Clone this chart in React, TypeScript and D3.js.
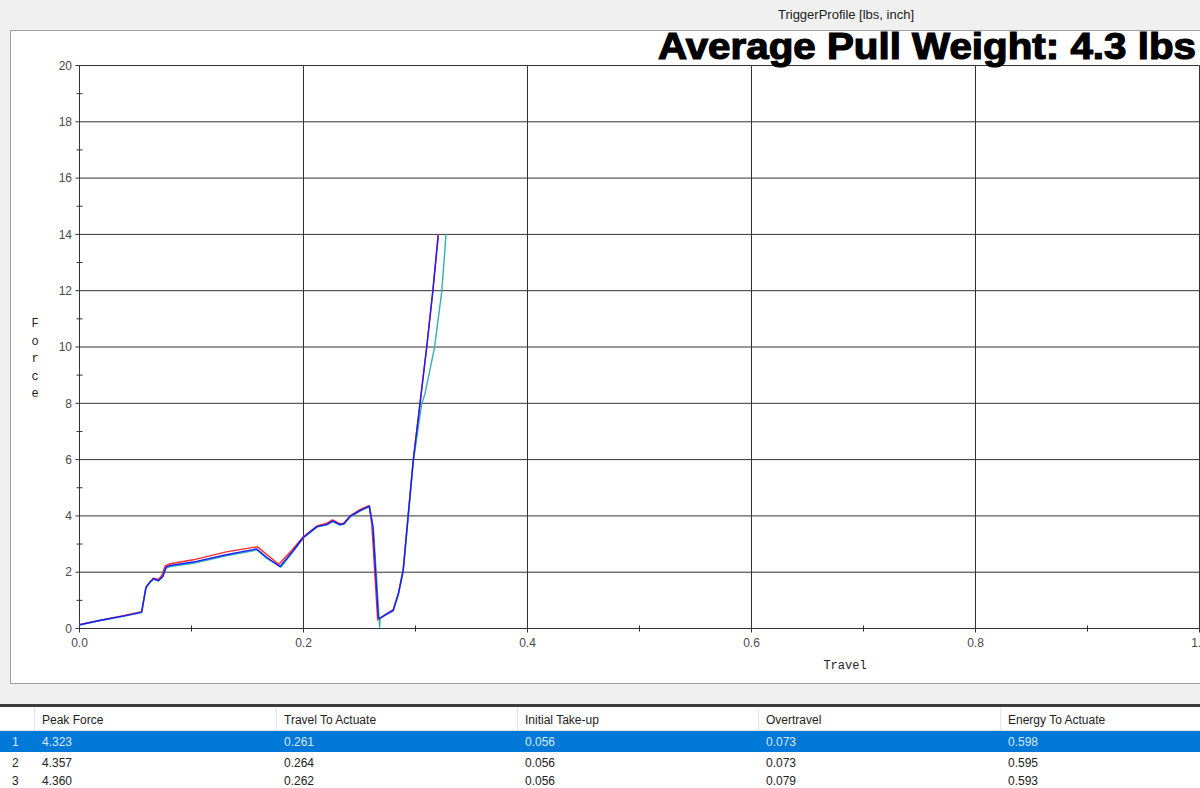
import React from "react"
import * as d3 from "d3"

type Pt = [number, number]

// travel [inch], force [lbs]
const redSeries: Pt[] = [
  [0, 0.14], [0.004, 0.17], [0.02, 0.3], [0.04, 0.46], [0.0555, 0.6], [0.0592, 1.45],
  [0.063, 1.66], [0.066, 1.79], [0.0704, 1.74], [0.0738, 1.9], [0.0765, 2.22], [0.081, 2.3],
  [0.1016, 2.44], [0.131, 2.72], [0.155, 2.88], [0.159, 2.9], [0.168, 2.6], [0.178, 2.28],
  [0.19, 2.8], [0.2, 3.27], [0.212, 3.64], [0.221, 3.74], [0.226, 3.86], [0.2326, 3.72],
  [0.236, 3.74], [0.2415, 4.0], [0.2504, 4.22], [0.2585, 4.36], [0.261, 3.7], [0.2662, 0.3],
  [0.2677, 0.35], [0.2772, 0.6], [0.28, 0.66], [0.2847, 1.25], [0.289, 2.1], [0.2936, 4.1],
  [0.298, 6.0], [0.304, 8.0], [0.31, 10.0], [0.3154, 11.98], [0.3202, 14.0],
]

const blueSeries: Pt[] = [
  [0, 0.13], [0.004, 0.17], [0.02, 0.3], [0.04, 0.45], [0.0555, 0.58], [0.0594, 1.47],
  [0.063, 1.65], [0.066, 1.77], [0.0704, 1.7], [0.0743, 1.85], [0.0772, 2.18], [0.081, 2.24],
  [0.1016, 2.36], [0.131, 2.62], [0.155, 2.8], [0.158, 2.83], [0.167, 2.53], [0.179, 2.2],
  [0.191, 2.77], [0.2, 3.24], [0.212, 3.62], [0.221, 3.7], [0.226, 3.82], [0.2326, 3.69],
  [0.236, 3.72], [0.2415, 3.98], [0.2504, 4.19], [0.2588, 4.35], [0.262, 3.6], [0.2668, 0.4],
  [0.2677, 0.35], [0.2772, 0.58], [0.28, 0.64], [0.2847, 1.23], [0.289, 2.06], [0.2936, 4.07],
  [0.298, 5.97], [0.304, 7.98], [0.31, 9.99], [0.3154, 11.95], [0.3204, 13.96],
]

const tealSeries: Pt[] = [
  [0, 0.12], [0.004, 0.16], [0.02, 0.29], [0.04, 0.44], [0.0555, 0.57], [0.0594, 1.44],
  [0.063, 1.63], [0.066, 1.75], [0.0704, 1.69], [0.0743, 1.83], [0.0775, 2.15], [0.081, 2.2],
  [0.1016, 2.32], [0.131, 2.58], [0.155, 2.76], [0.158, 2.8], [0.167, 2.5], [0.18, 2.18],
  [0.191, 2.75], [0.2, 3.22], [0.212, 3.6], [0.221, 3.68], [0.226, 3.8], [0.2326, 3.67],
  [0.236, 3.7], [0.2415, 3.96], [0.2504, 4.17], [0.259, 4.33], [0.2625, 3.5], [0.268, 0.05],
  [0.2685, 0.38], [0.2772, 0.56], [0.28, 0.62], [0.2847, 1.2], [0.289, 2.02], [0.2936, 4.0],
  [0.298, 5.9], [0.3055, 7.98], [0.3085, 8.34], [0.317, 9.99], [0.3234, 11.95], [0.3273, 14.02],
]

const seriesColors = ["#ff2a2a", "#33b0b0", "#1a1aff"]

const yTicks = [0, 2, 4, 6, 8, 10, 12, 14, 16, 18, 20]
const yMinorTicks = [1, 3, 5, 7, 9, 11, 13, 15, 17, 19]
const xTicks = [0, 0.2, 0.4, 0.6, 0.8, 1.0]
const xMinorTicks = [0.1, 0.3, 0.5, 0.7, 0.9]

const tableHeaders = ["Peak Force", "Travel To Actuate", "Initial Take-up", "Overtravel", "Energy To Actuate"]
const tableRows = [
  ["4.323", "0.261", "0.056", "0.073", "0.598"],
  ["4.357", "0.264", "0.056", "0.073", "0.595"],
  ["4.360", "0.262", "0.056", "0.079", "0.593"],
]

const W = 1200
const H = 788
const plot = { left: 79.5, right: 1199.5, top: 65.5, bottom: 628.5 }

export default function App() {
  const x = d3.scaleLinear().domain([0, 1]).range([plot.left, plot.right])
  const y = d3.scaleLinear().domain([0, 20]).range([plot.bottom, plot.top])
  const line = d3.line<Pt>().x((d) => x(d[0])).y((d) => y(d[1]))

  const colX = [0, 34, 276, 517, 758, 1000, 1200]
  const rowY = [742, 763, 781]
  const sans = "'Liberation Sans', Arial, sans-serif"
  const mono = "'Liberation Mono', 'Courier New', monospace"

  return (
    <svg width={W} height={H} style={{ position: "absolute", left: 0, top: 0, display: "block" }} fontFamily={sans}>
      <rect x={0} y={0} width={W} height={H} fill="#f0f0f0" />
      <text x={846} y={19} textAnchor="middle" fontSize={13} fill="#222">TriggerProfile [lbs, inch]</text>

      {/* chart panel */}
      <rect x={10.5} y={30.5} width={1200} height={653} fill="#fff" stroke="#a0a0a0" />

      {/* grid */}
      {yTicks.map((t) => (
        <g key={"y" + t}>
          <line x1={plot.left - 4} x2={plot.right} y1={y(t)} y2={y(t)} stroke="#333" strokeWidth={1} />
          <text x={72} y={y(t)} dy="0.35em" textAnchor="end" fontSize={12} fill="#4a4a4a">{t}</text>
        </g>
      ))}
      {yMinorTicks.map((t) => (
        <line key={"ym" + t} x1={plot.left - 3} x2={plot.left + 3} y1={y(t)} y2={y(t)} stroke="#333" />
      ))}
      {xTicks.map((t) => (
        <g key={"x" + t}>
          <line x1={x(t)} x2={x(t)} y1={plot.top} y2={plot.bottom + 4} stroke="#333" strokeWidth={1} />
          <text x={x(t)} y={643} dy="0.35em" textAnchor="middle" fontSize={12} fill="#4a4a4a">{t.toFixed(1)}</text>
        </g>
      ))}
      {xMinorTicks.map((t) => (
        <line key={"xm" + t} x1={x(t)} x2={x(t)} y1={plot.bottom - 3} y2={plot.bottom + 3} stroke="#333" />
      ))}

      {/* axis titles */}
      <text x={845} y={669} textAnchor="middle" fontSize={12} fontFamily={mono} fill="#222">Travel</text>
      {"Force".split("").map((c, i) => (
        <text key={i} x={35} y={327 + i * 17.5} textAnchor="middle" fontSize={12} fontFamily={mono} fill="#222">{c}</text>
      ))}

      {/* curves */}
      {[redSeries, tealSeries, blueSeries].map((s, i) => (
        <path key={i} d={line(s) ?? ""} fill="none" stroke={seriesColors[i]} strokeWidth={1.4} strokeLinejoin="round" />
      ))}

      <text x={1196} y={59} textAnchor="end" fontSize={36} fontWeight={900} fill="#000" stroke="#000" strokeWidth={1.2}
        textLength={538} lengthAdjust="spacingAndGlyphs">Average Pull Weight: 4.3 lbs</text>

      {/* table */}
      <rect x={0} y={704} width={W} height={84} fill="#fff" />
      <line x1={0} x2={W} y1={705.5} y2={705.5} stroke="#3c3c3c" strokeWidth={3} />
      <line x1={0} x2={W} y1={730.5} y2={730.5} stroke="#e3e3e3" />
      {colX.slice(1, -1).map((cx, i) => (
        <line key={"c" + i} x1={cx + 0.5} x2={cx + 0.5} y1={708} y2={730} stroke="#e5e5e5" />
      ))}
      {tableHeaders.map((h, i) => (
        <text key={h} x={colX[i + 1] + 8} y={720} dy="0.35em" fontSize={12} fill="#222">{h}</text>
      ))}
      <rect x={0} y={731} width={W} height={21} fill="#0078d7" />
      {tableRows.map((r, ri) => (
        <g key={ri} fill={ri === 0 ? "#dce8f7" : "#222"}>
          <text x={12} y={rowY[ri]} dy="0.35em" fontSize={12}>{ri + 1}</text>
          {r.map((v, ci) => (
            <text key={ci} x={colX[ci + 1] + 8} y={rowY[ri]} dy="0.35em" fontSize={12}>{v}</text>
          ))}
        </g>
      ))}
    </svg>
  )
}
